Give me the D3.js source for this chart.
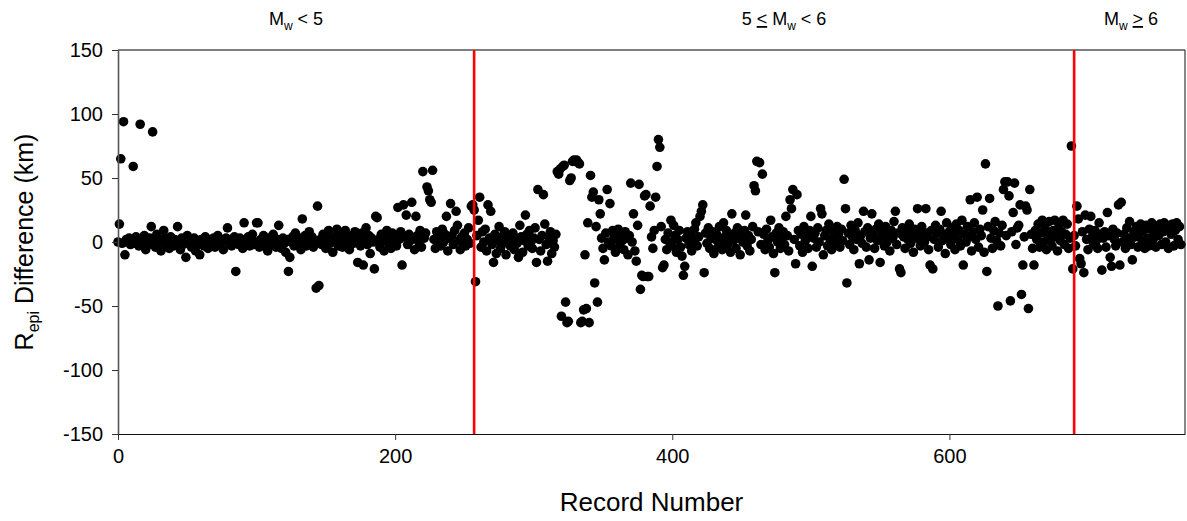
<!DOCTYPE html>
<html>
<head>
<meta charset="utf-8">
<script src="https://cdn.jsdelivr.net/npm/d3@7"></script>
<style>
  html, body { margin: 0; padding: 0; background: #fff; }
  svg { display: block; font-family: Arial, "Liberation Sans", sans-serif; }
</style>
</head>
<body>
<svg id="chart" width="1187" height="521"></svg>
<script>
// ---- Data (Repi difference in km, per record number) ----
// Records 0-255 : Mw < 5
const mwLow = [
  0,14,65,-1,94,-10,2,0,3,-2,1,59,-1,4,0,-3,92,2,-1,5,
  -6,1,-2,3,12,86,0,-4,6,-1,2,-7,0,9,3,-2,1,-5,4,0,
  -3,2,-1,12,0,-6,3,-2,1,-12,5,-1,2,-4,0,3,-7,1,-2,-10,
  2,0,-3,4,1,-5,2,0,-1,3,-4,1,5,-2,0,2,-6,1,3,11,
  -1,2,-3,0,4,-23,1,-2,3,0,-5,15,2,-1,4,-3,1,6,-2,0,
  15,15,-4,2,0,5,-3,1,-7,3,0,-2,6,1,-4,2,13,0,-5,3,
  -1,-8,2,-23,-12,0,4,-3,7,1,-2,3,-6,18,0,5,-3,2,8,-1,
  4,-4,1,-36,28,-34,2,-2,6,0,-5,3,9,-1,2,-8,4,0,10,-3,
  2,6,-4,1,9,-2,3,-6,0,5,-1,8,2,-16,4,-3,7,-18,1,11,
  -2,5,-9,3,0,-21,20,19,2,-4,6,1,-7,4,9,-1,3,-5,7,0,
  5,-3,27,2,8,-18,29,4,21,-2,6,1,31,3,-6,20,5,0,9,-4,
  55,3,7,43,40,33,31,56,2,-5,8,1,4,-3,10,0,6,20,-7,3,
  30,5,-2,9,24,13,1,-6,4,0,7,-3,2,11,-1,28
];
// Records 256-689 : 5 <= Mw < 6
const mwMid = [
  29,25,-31,5,17,35,-4,8,0,10,-7,29,3,24,-2,-16,6,-9,1,12,
  -5,4,-1,8,-10,2,5,-3,0,7,-6,3,-1,-12,13,4,-8,1,21,6,
  -3,9,0,-5,3,11,-16,41,2,-7,5,37,14,-2,-15,4,8,-9,1,-4,6,
  55,53,57,-58,59,60,-47,-63,-62,48,50,63,64,63,64,62,61,-63,-62,-53,-10,-52,15,-63,52,
  35,39,-32,12,-47,33,22,3,-5,-14,7,41,0,30,-3,9,4,-8,2,10,
  -4,6,1,-6,8,3,-10,5,46,0,22,-7,-15,13,45,-37,-26,-27,36,37,
  -27,-27,28,4,-5,9,35,59,80,74,12,-20,-18,2,-6,7,0,17,-3,13,
  5,-8,2,9,-4,-11,-26,-19,3,8,-2,6,-7,1,10,15,-3,4,20,24,
  29,-24,7,-1,11,-5,3,8,-9,2,6,-4,12,0,-6,15,4,9,-2,5,
  -8,22,1,7,-5,11,3,-10,6,0,9,21,-3,5,-7,2,12,44,40,63,
  8,62,-2,53,6,-6,10,1,-4,17,4,-9,-24,7,0,11,-5,3,8,-2,
  20,5,-7,33,26,41,2,-17,37,9,-3,6,-8,12,1,4,-5,9,20,-19,
  3,7,-4,11,0,26,22,-10,5,9,-3,14,2,-6,8,4,-1,12,6,-4,
  10,1,49,26,-32,7,-2,13,4,-6,9,2,15,-17,5,-1,24,8,-4,11,
  -14,3,22,6,-5,10,1,14,-16,4,8,-3,12,0,6,-7,9,3,16,24,
  -2,7,-21,-24,11,4,-5,9,2,14,-1,6,-8,10,3,26,5,-3,12,8,
  0,26,4,-6,-18,9,-21,2,13,7,-4,10,24,1,6,-9,15,3,8,-2,
  11,5,-6,14,2,9,-3,17,-18,6,0,12,4,33,-7,8,15,2,35,-4,
  10,5,25,-8,61,-23,12,34,3,-5,9,16,1,-50,7,-3,13,41,47,5,
  47,36,-46,8,23,46,-2,11,13,29,-41,-18,4,28,25,-52,41,6,-5,-18,
  9,2,14,-4,7,17,0,11,-6,5,16,2,-3,9,17,4,-7,12,1,8,17,-2,6,14,-5,3,75,-21
];
// Records 690-767 : Mw >= 6
const mwHigh = [
  5,-3,28,18,-13,-17,8,-24,21,2,-6,10,20,4,-2,9,1,-5,15,6,
  -22,3,8,-4,23,5,-12,-19,10,2,-3,7,29,-18,31,0,6,-5,11,3,
  16,-2,-14,8,4,12,-4,6,14,1,9,-5,13,3,-3,10,15,2,7,-4,
  12,5,14,-2,8,15,0,11,-5,13,6,14,-3,9,15,2,12,-2
];
// Magnitude class boundaries (record numbers), ticks and domains
const boundaries = [257, 690];
const xTicks = [0, 200, 400, 600];
const yTicks = [-150, -100, -50, 0, 50, 100, 150];
const xDomain = [0, 770];
const yDomain = [-150, 150];

// Build records table: record number = running index
const records = [];
[mwLow, mwMid, mwHigh].forEach(arr => arr.forEach(v => records.push({ rec: records.length, diff: v })));

// ---- Layout ----
const svg = d3.select("#chart");
const L = 118, R = 1185, T = 50, B = 434;
const x = d3.scaleLinear().domain(xDomain).range([L, R]);
const y = d3.scaleLinear().domain(yDomain).range([B, T]);
const FONT = "Arial, 'Liberation Sans', sans-serif";

// Frame (top / right)
svg.append("line").attr("x1", L).attr("x2", R).attr("y1", T).attr("y2", T)
  .attr("stroke", "#555").attr("stroke-width", 1.3);
svg.append("line").attr("x1", R).attr("x2", R).attr("y1", T).attr("y2", B)
  .attr("stroke", "#111").attr("stroke-width", 1);

// Points
svg.append("g").selectAll("circle").data(records).join("circle")
  .attr("cx", d => x(d.rec)).attr("cy", d => y(d.diff))
  .attr("r", 4.8).attr("fill", "#000");

// Red boundary lines
svg.append("g").selectAll("line").data(boundaries).join("line")
  .attr("x1", d => x(d)).attr("x2", d => x(d))
  .attr("y1", T).attr("y2", B + 1)
  .attr("stroke", "#ff0000").attr("stroke-width", 2.6);

// Axes
const fmt = d => String(d);
const yAxis = d3.axisLeft(y).tickValues(yTicks).tickFormat(fmt).tickSize(6).tickPadding(9).tickSizeOuter(0);
const gy = svg.append("g").attr("transform", `translate(${L},0)`).call(yAxis);
gy.select(".domain").attr("stroke", "#555").attr("stroke-width", 1.6);
gy.selectAll(".tick line").attr("stroke", "#333");
gy.selectAll(".tick text").attr("font-size", 20).attr("fill", "#000").attr("font-family", FONT);

const xAxis = d3.axisBottom(x).tickValues(xTicks).tickFormat(fmt).tickSize(6).tickPadding(9).tickSizeOuter(0);
const gx = svg.append("g").attr("transform", `translate(0,${B})`).call(xAxis);
gx.select(".domain").attr("stroke", "#111").attr("stroke-width", 1.2);
gx.selectAll(".tick line").attr("stroke", "#333");
gx.selectAll(".tick text").attr("font-size", 20).attr("fill", "#000").attr("font-family", FONT);

// Axis titles
svg.append("text").attr("x", (L + R) / 2).attr("y", 511)
  .attr("text-anchor", "middle").attr("font-size", 26).text("Record Number");

const yt = svg.append("text").attr("transform", `translate(33,${(T + B) / 2}) rotate(-90)`)
  .attr("text-anchor", "middle").attr("font-size", 25);
yt.append("tspan").text("R");
yt.append("tspan").attr("font-size", 16).attr("dy", 6).text("epi");
yt.append("tspan").attr("dy", -6).text(" Difference (km)");

// Magnitude class labels
function magLabel(cx, parts) {
  const t = svg.append("text").attr("x", cx).attr("y", 25)
    .attr("text-anchor", "middle").attr("font-size", 18);
  parts.forEach(p => {
    const s = t.append("tspan").text(p.t);
    if (p.sub) s.attr("font-size", 12).attr("dy", 5);
    if (p.up) s.attr("dy", -5);
    if (p.u) s.style("text-decoration", "underline");
  });
}
magLabel(296, [{ t: "M" }, { t: "w", sub: true }, { t: " < 5", up: true }]);
magLabel(784, [{ t: "5 " }, { t: "<", u: true }, { t: " M" }, { t: "w", sub: true }, { t: " < 6", up: true }]);
magLabel(1131, [{ t: "M" }, { t: "w", sub: true }, { t: " ", up: true }, { t: ">", u: true }, { t: " 6" }]);
</script>
</body>
</html>
